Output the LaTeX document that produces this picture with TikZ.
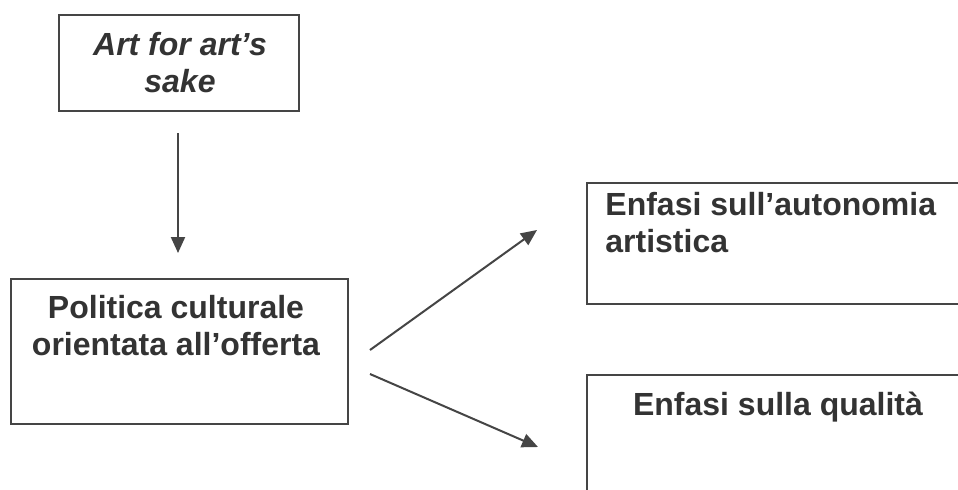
\documentclass[tikz,border=0pt]{standalone}
\usepackage{fontspec}
\setmainfont{Liberation Sans}
\usetikzlibrary{arrows.meta}
\definecolor{inkgray}{HTML}{333333}
\definecolor{edgegray}{HTML}{454545}

\begin{document}
\begin{tikzpicture}[x=0.5pt,y=-0.5pt,
    box/.style={draw=edgegray,line width=1pt,inner sep=0pt,anchor=north west},
    txt/.style={text=inkgray,inner sep=0pt,font=\fontsize{16}{18.5}\selectfont\bfseries},
    arr/.style={draw=edgegray,line width=1pt,-{Triangle[length=8pt,width=7pt]}}]
      \clip (0,0) rectangle (958,489);
      \fill[white] (0,0) rectangle (958,489);

      % boxes
      \node[box,minimum width=120pt,minimum height=48pt] (artbox) at (58,14) {};
      \node[box,minimum width=168.5pt,minimum height=72.5pt] (polbox) at (10,278) {};
      \node[box,minimum width=207pt,minimum height=60.5pt] (autbox) at (586,182) {};
      \node[box,minimum width=207pt,minimum height=93pt] (qualbox) at (586,374) {};

      % texts
      \node[txt,anchor=north,align=center,font=\fontsize{16}{18.5}\selectfont\bfseries\itshape] (arttxt) at (180,31.5) {Art for art’s\\sake};
      \node[txt,anchor=north,align=center] (poltxt) at (176,294.5) {Politica culturale\\orientata all’offerta};
      \node[txt,anchor=north west,align=left] (auttxt) at (605,191.5) {Enfasi sull’autonomia\\artistica};
      \node[txt,anchor=base] (qualtxt) at (778,415) {Enfasi sulla qualità};

      % arrows
      \coordinate (a1) at (178,133);
      \coordinate (a2) at (178,253);
      \coordinate (b1) at (370,350);
      \coordinate (b2) at (537,230);
      \coordinate (c1) at (370,374);
      \coordinate (c2) at (538,447);
      \draw[arr] (a1) -- (a2);
      \draw[arr] (b1) -- (b2);
      \draw[arr] (c1) -- (c2);
\end{tikzpicture}
\end{document}
